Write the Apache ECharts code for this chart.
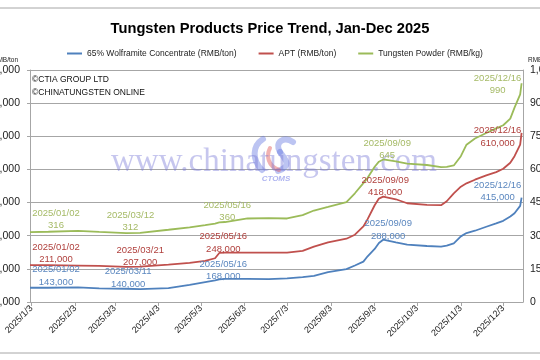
<!DOCTYPE html>
<html>
<head>
<meta charset="utf-8">
<script src="https://cdn.jsdelivr.net/npm/echarts@6/dist/echarts.min.js"></script>
<style>html,body{margin:0;padding:0;background:#fff;}#c{width:540px;height:360px;}</style>
</head>
<body>
<div id="c"></div>
<script>
// ---- data ----
const dates = ['2025-01-02','2025-01-15','2025-02-05','2025-02-20','2025-03-11','2025-03-12','2025-03-21','2025-04-10','2025-04-25','2025-05-06','2025-05-13','2025-05-16','2025-05-20','2025-06-05','2025-06-20','2025-07-03','2025-07-14','2025-07-22','2025-08-01','2025-08-14','2025-08-20','2025-08-26','2025-08-29','2025-09-03','2025-09-06','2025-09-09','2025-09-18','2025-09-26','2025-10-10','2025-10-20','2025-10-24','2025-10-29','2025-11-03','2025-11-07','2025-11-13','2025-11-21','2025-11-28','2025-12-03','2025-12-08','2025-12-11','2025-12-15','2025-12-16'];
const wolframite = [143000,143000,144000,141000,140000,140000,139000,142000,152000,160000,165000,168000,170000,170000,169000,171000,175000,179000,190000,199000,210000,222000,238000,260000,278000,288000,280000,273000,269000,267000,270000,277000,298000,308000,315000,327000,337000,345000,358000,368000,390000,415000];
const apt = [211000,211000,210000,209000,206000,206000,207000,213000,218000,224000,232000,248000,249000,249000,249000,249000,254000,267000,280000,291000,303000,328000,350000,392000,412000,418000,410000,398000,393000,392000,404000,428000,448000,458000,469000,482000,492000,502000,520000,540000,575000,610000];
const powder = [316,318,322,317,312,312,313,327,338,348,355,360,362,378,380,378,393,414,430,452,492,538,562,612,635,645,636,626,620,610,612,618,660,712,740,765,786,800,830,880,940,990];
const wolframiteLabelDates = ['2025-01-02','2025-03-11','2025-05-16','2025-09-09','2025-12-16'];
const aptLabelDates = ['2025-01-02','2025-03-21','2025-05-16','2025-09-09','2025-12-16'];
const powderLabelDates = ['2025-01-02','2025-03-12','2025-05-16','2025-09-09','2025-12-16'];
const xTickDates = ['2025-01-03','2025-02-03','2025-03-03','2025-04-03','2025-05-03','2025-06-03','2025-07-03','2025-08-03','2025-09-03','2025-10-03','2025-11-03','2025-12-03'];
const xRange = ['2025-01-02','2025-12-17'];
const seriesNames = ['65% Wolframite Concentrate (RMB/ton)','APT (RMB/ton)','Tungsten Powder (RMB/kg)'];

// ---- styling (positions of annotation labels relative to their points) ----
const labelOffsets = {
  w: [[26,-12],[2,-11],[4,-9],[5,-10],[-24,-6]],
  a: [[26,-12],[0,-10],[4,-10],[2,-10],[-24,4]],
  p: [[26,-13],[3,-11.5],[8,-11],[4,-10],[-24,1]]
};
const FONT = 'Liberation Sans';
const fmtNum = v => v.toLocaleString('en-US');
const fmtDate = d => d.replace(/-/g,'/');
const ts = d => { const p = d.split('-').map(Number); return new Date(p[0], p[1]-1, p[2]).getTime(); };
const fmtTick = v => { const t = new Date(v); return t.getFullYear() + '/' + (t.getMonth()+1) + '/' + t.getDate(); };

function buildSeriesData(values, labelDates, offsets, color, isMoney) {
  return dates.map((d, i) => {
    const k = labelDates.indexOf(d);
    if (k < 0) return [ts(d), values[i]];
    return {
      value: [ts(d), values[i]],
      label: {
        show: true, position: 'inside', offset: offsets[k],
        formatter: fmtDate(d) + '\n' + (isMoney ? fmtNum(values[i]) : String(values[i])),
        color: color, fontSize: 9.5, lineHeight: 12.5, fontFamily: FONT, align: 'center'
      }
    };
  });
}

const chart = echarts.init(document.getElementById('c'), null, {renderer: 'canvas'});
const gridColor = '#a6a6a6';
const tickVals = xTickDates.map(ts);
const logoBlue = 'rgba(95,115,225,0.42)';
const logoRed = 'rgba(225,85,85,0.45)';
const curve = (x1,y1,cx1,cy1,cx2,cy2,x2,y2,color,w) => ({
  type: 'bezierCurve', silent: true, z: 1,
  shape: {x1: x1, y1: y1, cpx1: cx1, cpy1: cy1, cpx2: cx2, cpy2: cy2, x2: x2, y2: y2},
  style: {fill: 'none', stroke: color, lineWidth: w, lineCap: 'round'}
});
chart.setOption({
  animation: false,
  backgroundColor: '#fff',
  title: {
    text: 'Tungsten Products Price Trend, Jan-Dec 2025',
    left: 'center', top: 16,
    textStyle: {fontFamily: FONT, fontWeight: 'bold', fontSize: 14.7, color: '#000'}
  },
  legend: {
    left: 62, top: 44, itemGap: 22, itemWidth: 15, itemHeight: 2, icon: 'rect',
    textStyle: {fontFamily: FONT, fontSize: 8.5, color: '#222'},
    data: seriesNames
  },
  grid: {left: 30, right: 17, top: 70, bottom: 58, containLabel: false, outerBoundsMode: 'none'},
  xAxis: {
    type: 'value', min: ts(xRange[0]), max: ts(xRange[1]),
    axisLine: {lineStyle: {color: gridColor}},
    axisTick: {show: true, customValues: tickVals, length: 4, lineStyle: {color: gridColor}},
    axisLabel: {
      customValues: tickVals, rotate: 45, margin: 5,
      formatter: fmtTick, fontFamily: FONT, fontSize: 9, color: '#222'
    },
    splitLine: {show: false}
  },
  yAxis: [
    {
      type: 'value', min: 100000, max: 800000, interval: 100000,
      axisLine: {show: true, lineStyle: {color: gridColor}},
      axisTick: {show: true, length: 3, lineStyle: {color: gridColor}},
      axisLabel: {formatter: fmtNum, fontFamily: FONT, fontSize: 10.5, color: '#222', margin: 10},
      splitLine: {lineStyle: {color: gridColor, width: 1}}
    },
    {
      type: 'value', min: 0, max: 1050, interval: 150,
      axisLine: {show: true, lineStyle: {color: gridColor}},
      axisTick: {show: false},
      axisLabel: {fontFamily: FONT, fontSize: 10.5, color: '#222', margin: 7},
      splitLine: {show: false}
    }
  ],
  graphic: [
    {type: 'rect', shape: {x: -5, y: 8, width: 550, height: 345}, style: {fill: 'none', stroke: '#a6a6a6', lineWidth: 1}, silent: true, z: 0},
    {type: 'text', x: 32, y: 75, style: {text: '©CTIA GROUP LTD', font: '8.5px ' + FONT, fill: '#111'}, z: 10},
    {type: 'text', x: 32, y: 88, style: {text: '©CHINATUNGSTEN ONLINE', font: '8.5px ' + FONT, fill: '#111'}, z: 10},
    {type: 'text', x: 18, y: 57, style: {text: 'RMB/ton', font: '6.5px ' + FONT, fill: '#222', align: 'right'}, z: 10},
    {type: 'text', x: 528, y: 57, style: {text: 'RMB/kg', font: '6.5px ' + FONT, fill: '#222'}, z: 10},
    curve(263,139, 252,146, 252,160, 262,170, logoBlue, 6),
    curve(293,142, 284,136, 274,142, 280,152, logoBlue, 6),
    curve(280,152, 286,160, 292,166, 278,171, logoBlue, 6),
    curve(270,148, 266,156, 268,166, 279,170, logoRed, 4),
    {type: 'text', x: 274, y: 162, style: {text: 'www.chinatungsten.com', font: '33px "Liberation Serif"', fill: 'rgba(120,120,215,0.42)', align: 'center', verticalAlign: 'middle'}, z: 1, silent: true},
    {type: 'text', x: 276, y: 179, style: {text: 'CTOMS', font: 'italic bold 8px ' + FONT, fill: 'rgba(120,130,230,0.6)', align: 'center', verticalAlign: 'middle'}, z: 1, silent: true}
  ],
  series: [
    {
      name: seriesNames[0], type: 'line', yAxisIndex: 0, color: '#4F81BD',
      lineStyle: {width: 1.8}, showSymbol: true, showAllSymbol: true, symbolSize: 0, z: 3,
      data: buildSeriesData(wolframite, wolframiteLabelDates, labelOffsets.w, '#5B87BF', true)
    },
    {
      name: seriesNames[1], type: 'line', yAxisIndex: 0, color: '#C0504D',
      lineStyle: {width: 1.8}, showSymbol: true, showAllSymbol: true, symbolSize: 0, z: 3,
      data: buildSeriesData(apt, aptLabelDates, labelOffsets.a, '#B0403D', true)
    },
    {
      name: seriesNames[2], type: 'line', yAxisIndex: 1, color: '#9BBB59',
      lineStyle: {width: 1.8}, showSymbol: true, showAllSymbol: true, symbolSize: 0, z: 3,
      data: buildSeriesData(powder, powderLabelDates, labelOffsets.p, '#A5BA66', false)
    }
  ]
});
</script>
</body>
</html>
